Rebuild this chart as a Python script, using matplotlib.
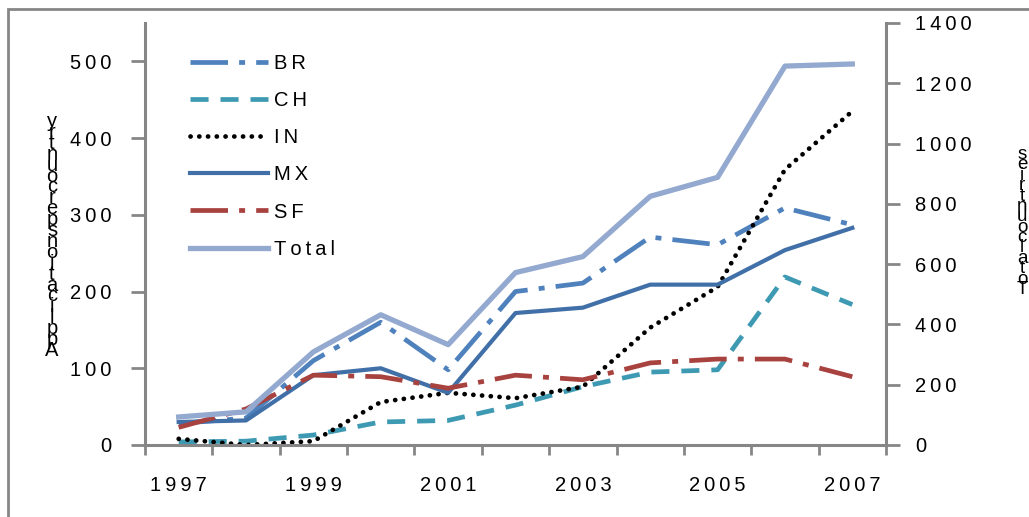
import matplotlib
matplotlib.use("Agg")
import matplotlib.pyplot as plt
from matplotlib.patches import Rectangle

plt.rcParams['font.family'] = ['Liberation Sans', 'DejaVu Sans']
plt.rcParams['lines.scale_dashes'] = False

years = [1997, 1998, 1999, 2000, 2001, 2002, 2003, 2004, 2005, 2006, 2007]
BR = [28, 35, 110, 160, 98, 200, 211, 271, 261, 309, 287]
CH = [4, 5, 13, 30, 32, 52, 76, 95, 98, 219, 183]
IN = [8, 0, 5, 56, 68, 61, 76, 153, 206, 359, 435]
MX = [30, 32, 91, 100, 68, 172, 179, 209, 209, 254, 283]
SF = [23, 47, 91, 89, 74, 91, 85, 107, 112, 112, 89]
Total = [93, 110, 309, 432, 333, 572, 625, 825, 888, 1257, 1264]

left_ticks = [0, 100, 200, 300, 400, 500]
right_ticks = [0, 200, 400, 600, 800, 1000, 1200, 1400]
year_labels = ['1997', '1999', '2001', '2003', '2005', '2007']

def sp(s):
    return '\u2009'.join(s)

GRAY = '#868686'
FS = 14.5

fig = plt.figure(figsize=(10.29, 5.17), dpi=100)
ax = fig.add_axes([145/1029, 1-445/517, (886-145)/1029, (445-23)/517])
ax2 = ax.twinx()

x = list(range(len(years)))
lBR, = ax.plot(x, BR, color='#4F81BD', lw=3.4, dashes=(27, 8, 4.3, 8), label=sp('BR'))
lCH, = ax.plot(x, CH, color='#3E9AB2', lw=3.4, dashes=(13, 8.6), label=sp('CH'))
lIN, = ax.plot(x, IN, color='black', lw=3.4, dashes=(0.1, 6.2), dash_capstyle='round', label=sp('IN'))
lMX, = ax.plot(x, MX, color='#416FA8', lw=3.0, label=sp('MX'))
lSF, = ax.plot(x, SF, color='#A8423F', lw=3.4, dashes=(27, 8, 4.3, 8), label=sp('SF'))
lT, = ax2.plot(x, Total, color='#93A9CF', lw=3.8, label=sp('Total'))

ax.set_xlim(-0.5, len(years) - 0.5)
ax.set_ylim(0, 550)
ax2.set_ylim(0, 1400)

# x axis: boundary ticks, labels on every other category
ax.set_xticks([i - 0.5 for i in range(len(years) + 1)])
ax.set_xticklabels([])
ax.set_xticks(x[::2], minor=True)
ax.set_xticklabels([sp(s) for s in year_labels], minor=True, fontsize=FS)
ax.tick_params(axis='x', which='major', length=7, width=2, color=GRAY, direction='out')
ax.tick_params(axis='x', which='minor', length=0, pad=22)

ax.set_yticks(left_ticks)
ax.set_yticklabels([sp(str(v)) for v in left_ticks], fontsize=FS)
ax.tick_params(axis='y', length=10, width=2, color=GRAY, pad=14)

ax2.set_yticks(right_ticks)
ax2.set_yticklabels([sp(str(v)) for v in right_ticks], fontsize=FS)
ax2.tick_params(axis='y', length=10, width=2, color=GRAY, pad=11)

for a in (ax, ax2):
    a.spines['top'].set_visible(False)
    for s in a.spines.values():
        s.set_color(GRAY)
        s.set_linewidth(2.2)
ax.spines['right'].set_visible(False)
ax2.spines['left'].set_visible(False)
ax2.spines['bottom'].set_visible(False)
ax.patch.set_visible(False)

leg = ax.legend(handles=[lBR, lCH, lIN, lMX, lSF, lT], loc='upper left',
                bbox_to_anchor=(190/1029, 1-54/517), bbox_transform=fig.transFigure,
                frameon=False, fontsize=FS, handlelength=3.85, handletextpad=0.3,
                labelspacing=0.9, borderpad=0, borderaxespad=0)

# stacked-letter axis titles (letters upright, reversed order)
left_title = 'Applications per country'
right_title = 'Total countries'
fig.text(52/1029, 1-236/517, '\n'.join(reversed(left_title.replace(' ', ''))),
         ha='center', va='center', fontsize=FS, linespacing=0.46, multialignment='center')
fig.text(1022/1029, 1-222/517, '\n'.join(reversed(right_title.replace(' ', ''))),
         ha='center', va='center', fontsize=FS - 1, linespacing=0.49, multialignment='center')

# outer chart-area frame
fig.patches.append(Rectangle((8/1029, -0.2), 1.2, 1.2 - 9/517, fill=False,
                             edgecolor=GRAY, lw=2, transform=fig.transFigure,
                             figure=fig, clip_on=False))

fig.savefig('out.png', dpi=100)
